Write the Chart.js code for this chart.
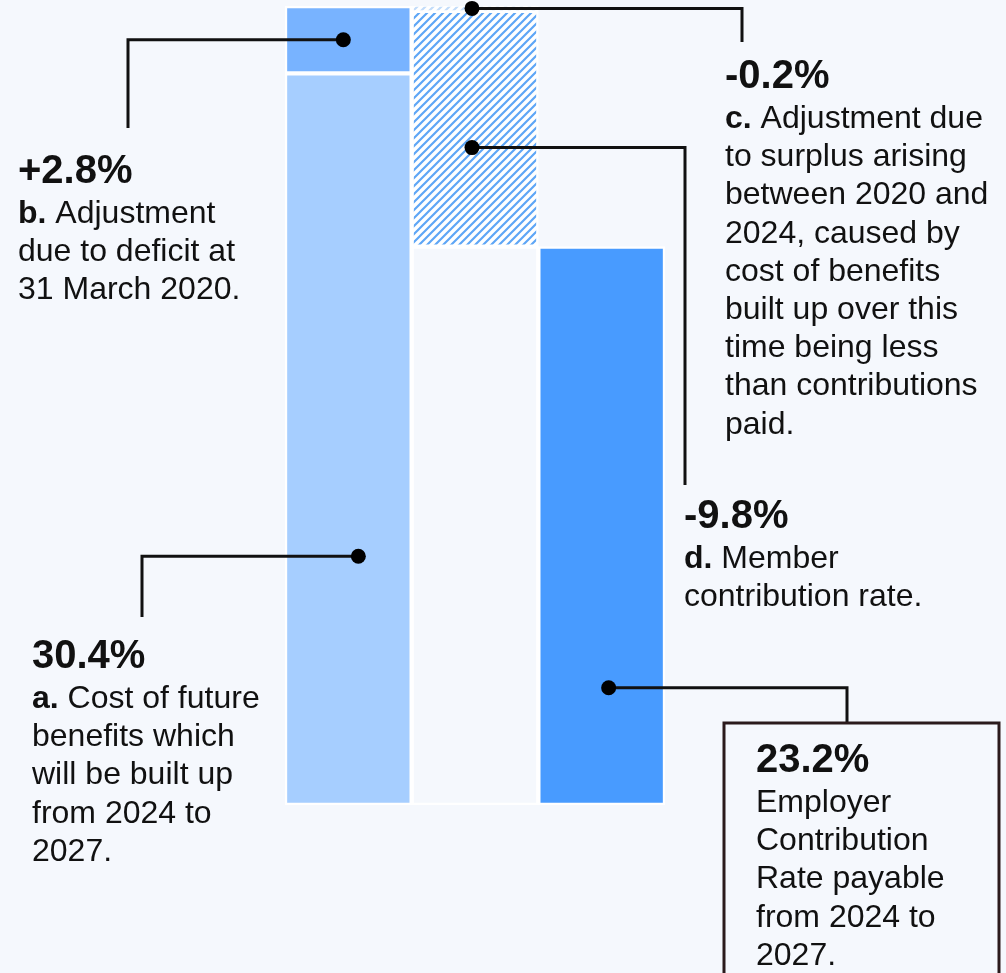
<!DOCTYPE html>
<html lang="en">
<head>
    <meta charset="UTF-8">
    <title>Employer Contribution Rate build-up</title>
    <script src="https://cdn.jsdelivr.net/npm/chart.js@4.4.1/dist/chart.umd.min.js"></script>
    <style>
        html, body {
            margin: 0;
            padding: 0;
            background-color: #F5F8FD;
            overflow: hidden;
        }
        .chart-container {
            position: relative;
            width: 1006px;
            height: 973px;
        }
    </style>
</head>
<body>
    <div class="chart-container">
        <canvas id="rateChart" width="1006" height="973"></canvas>
    </div>

    <script>
        // --- Data ---
        const categories = ['Cost and deficit', 'Adjustments', 'Employer rate'];
        const stepKeys = ['a', 'b', 'c', 'd'];
        const stepValues = [30.4, 2.8, -0.2, -9.8];
        const stepColumns = [0, 0, 1, 1];
        const stepNotes = [
            ['Cost of future', 'benefits which', 'will be built up', 'from 2024 to', '2027.'],
            ['Adjustment', 'due to deficit at', '31 March 2020.'],
            ['Adjustment due', 'to surplus arising', 'between 2020 and', '2024, caused by', 'cost of benefits',
             'built up over this', 'time being less', 'than contributions', 'paid.'],
            ['Member', 'contribution rate.']
        ];
        const totalNotes = ['Employer', 'Contribution', 'Rate payable', 'from 2024 to', '2027.'];

        const round1 = v => Math.round(v * 10) / 10;

        // running totals -> floating ranges
        let running = 0;
        const stepRanges = stepValues.map(v => {
            const start = running;
            running = round1(running + v);
            return [start, running];
        });
        const totalValue = running;
        const peakValue = Math.max(...stepRanges.map(r => Math.max(r[0], r[1])));

        const headline = (v, i) => (i > 0 && v > 0 ? '+' : '') + v.toFixed(1) + '%';

        // --- Styles ---
        const bgColor = '#F5F8FD';
        const fillA = '#A6CEFF';
        const fillB = '#78B3FF';
        const fillTotal = '#489BFF';

        function makeHatch(lineColor) {
            const c = document.createElement('canvas');
            c.width = 8; c.height = 8;
            const g = c.getContext('2d');
            g.fillStyle = '#FFFFFF';
            g.fillRect(0, 0, 8, 8);
            g.strokeStyle = lineColor;
            g.lineWidth = 2.2;
            g.beginPath();
            g.moveTo(-1, 9); g.lineTo(9, -1);
            g.moveTo(-3, 3); g.lineTo(3, -3);
            g.moveTo(5, 11); g.lineTo(11, 5);
            g.stroke();
            return g.createPattern(c, 'repeat');
        }

        const ctx = document.getElementById('rateChart').getContext('2d');
        const stepFills = [fillA, fillB, makeHatch('#C2DCFA'), makeHatch('#5EA6F6')];

        function columnData(col, range) {
            return categories.map((_, i) => i === col ? range : null);
        }

        const datasets = stepKeys.map((k, i) => ({
            label: k,
            data: columnData(stepColumns[i], stepRanges[i]),
            backgroundColor: stepFills[i],
            borderColor: '#FFFFFF',
            borderWidth: Math.abs(stepValues[i]) < 1 ? { top: 1, bottom: 1, left: 2.5, right: 2.5 } : 2.5,
            borderSkipped: false
        }));
        // invisible base under the adjustments column
        datasets.push({
            label: 'base',
            data: columnData(1, [0, totalValue]),
            backgroundColor: bgColor,
            borderColor: '#FFFFFF',
            borderWidth: 2.5,
            borderSkipped: false
        });
        datasets.push({
            label: 'total',
            data: columnData(2, [0, totalValue]),
            backgroundColor: fillTotal,
            borderColor: '#FFFFFF',
            borderWidth: 2.5,
            borderSkipped: false
        });
        datasets.forEach(d => {
            d.grouped = false;
            d.barPercentage = 1;
            d.categoryPercentage = 1;
        });

        // --- Callout layout ---
        const callouts = {
            a: { dx: 10, frac: 0.66, elbowX: 142, endY: 617, textX: 32, headY: 668 },
            b: { dx: -5, frac: 0.5, elbowX: 128, endY: 128, textX: 18, headY: 183 },
            c: { dx: -3, frac: 0.5, elbowX: 742, endY: 42, textX: 725, headY: 88 },
            d: { dx: -3, frac: 0.58, elbowX: 685, endY: 485, textX: 684, headY: 528 },
            total: { dx: 7, frac: 0.79, elbowX: 847, endY: 723, textX: 756, headY: 772, box: [724, 723, 999, 1010] }
        };
        const fontFamily = '"Liberation Sans", Arial, sans-serif';
        const lineGap = 38.2;

        function drawCallout(g, chart, dsIndex, col, range, cfg, head, letter, notes) {
            const bar = chart.getDatasetMeta(dsIndex).data[col];
            const y = chart.scales.y;
            const top = y.getPixelForValue(Math.max(range[0], range[1]));
            const bottom = y.getPixelForValue(Math.min(range[0], range[1]));
            const px = bar.x + cfg.dx;
            const py = top + (bottom - top) * cfg.frac;

            g.strokeStyle = '#111111';
            g.lineWidth = 3;
            g.beginPath();
            g.moveTo(px, py);
            g.lineTo(cfg.elbowX, py);
            g.lineTo(cfg.elbowX, cfg.endY);
            g.stroke();

            g.fillStyle = '#000000';
            g.beginPath();
            g.arc(px, py, 7.5, 0, Math.PI * 2);
            g.fill();

            if (cfg.box) {
                const [x1, y1, x2, y2] = cfg.box;
                g.strokeStyle = '#2B1A1C';
                g.lineWidth = 3;
                g.strokeRect(x1, y1, x2 - x1, y2 - y1);
            }

            g.fillStyle = '#111111';
            g.textBaseline = 'alphabetic';
            g.textAlign = 'left';
            g.font = 'bold 40px ' + fontFamily;
            g.fillText(head, cfg.textX, cfg.headY);

            notes.forEach((line, i) => {
                const by = cfg.headY + 40 + i * lineGap;
                let x = cfg.textX;
                if (i === 0 && letter) {
                    g.font = 'bold 32px ' + fontFamily;
                    const pre = letter + '.';
                    g.fillText(pre, x, by);
                    x += g.measureText(pre + ' ').width;
                }
                g.font = '32px ' + fontFamily;
                g.fillText(line, x, by);
            });
        }

        const calloutPlugin = {
            id: 'callouts',
            afterDatasetsDraw(chart) {
                const g = chart.ctx;
                g.save();
                stepKeys.forEach((k, i) => {
                    drawCallout(g, chart, i, stepColumns[i], stepRanges[i], callouts[k],
                        headline(stepValues[i], i), k, stepNotes[i]);
                });
                const totalIndex = datasets.length - 1;
                drawCallout(g, chart, totalIndex, 2, [0, totalValue], callouts.total,
                    totalValue.toFixed(1) + '%', null, totalNotes);
                g.restore();
            }
        };

        new Chart(ctx, {
            type: 'bar',
            data: { labels: categories, datasets: datasets },
            options: {
                responsive: false,
                animation: false,
                layout: { padding: { top: 6, bottom: 168, left: 285, right: 341 } },
                scales: {
                    x: { display: false, grid: { display: false } },
                    y: { display: false, min: 0, max: peakValue, grid: { display: false } }
                },
                plugins: {
                    legend: { display: false },
                    tooltip: { enabled: false }
                }
            },
            plugins: [calloutPlugin]
        });
    </script>
</body>
</html>
